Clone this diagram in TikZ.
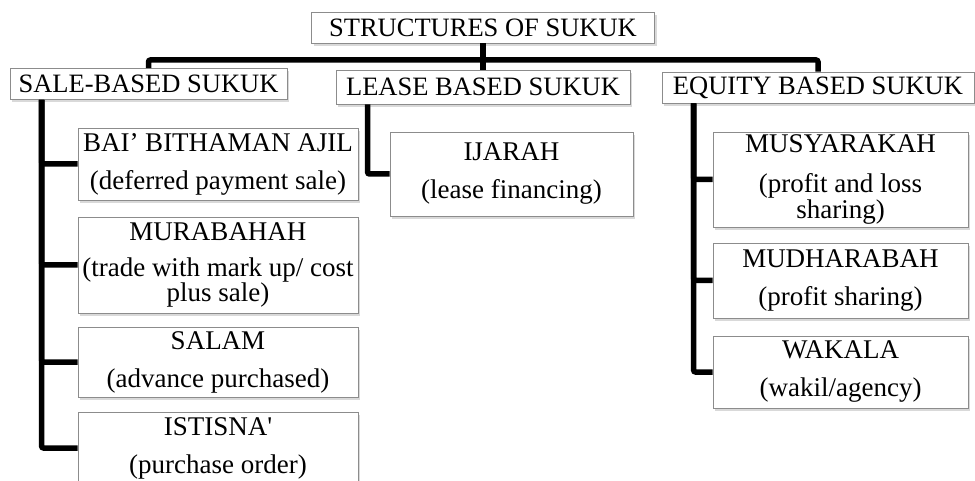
\documentclass[tikz,border=0pt]{standalone}
\usepackage{fontspec}
\setmainfont{Liberation Serif}
\usetikzlibrary{shadows}

\tikzset{
  box/.style={draw=black!45, line width=0.8pt, fill=white, inner sep=1pt, align=center,
    font=\fontsize{27}{23}\selectfont,
    drop shadow={shadow xshift=2pt, shadow yshift=-3pt, opacity=0.3}},
  head/.style={box, font=\fontsize{26.5}{23}\selectfont},
  conn/.style={line width=5.5pt, rounded corners=2pt}
}

\begin{document}
\begin{tikzpicture}[x=1pt, y=-1pt]
  \useasboundingbox (0,0) rectangle (975,481);

  % Title
  \node[head, minimum width=343pt, minimum height=31pt] (root) at (483,27.5) {STRUCTURES OF SUKUK};

  % Main groups
  \node[head, minimum width=277pt, minimum height=31pt] (sale) at (148.5,84) {SALE-BASED SUKUK};
  \node[head, minimum width=294pt, minimum height=34pt] (lease) at (483,87) {LEASE BASED SUKUK};
  \node[head, minimum width=312pt, minimum height=31pt] (equity) at (818,87.5) {EQUITY BASED SUKUK};

  \coordinate (bus) at (483,60);
  \draw[conn] (sale.north) |- (bus) -| (equity.north);
  \draw[conn] (root.south) -- (lease.north);

  % Sale-based
  \foreach \nm/\yc/\hh/\txt in {
    bai/164/72/{BAI’ BITHAMAN AJIL\\[15pt](deferred payment sale)},
    mura/265/96/{MURABAHAH\\[13pt](trade with mark up/ cost\\plus sale)},
    salam/362/70/{SALAM\\[15pt](advance purchased)},
    istisna/448/72/{ISTISNA\textquotesingle\\[15pt](purchase order)}} {
    \node[box, minimum width=280pt, minimum height=\hh pt] (\nm) at (218,\yc) {\txt};
    \draw[conn] ([xshift=32pt]sale.south west) |- (\nm.west);
  }

  % Lease based
  \node[box, minimum width=243pt, minimum height=84pt] (ijarah) at (511.5,174) {IJARAH\\[15pt](lease financing)};
  \draw[conn] ([xshift=32pt]lease.south west) |- (ijarah.west);

  % Equity based
  \foreach \nm/\yc/\hh/\txt in {
    musy/179.5/95/{MUSYARAKAH\\[17pt](profit and loss\\sharing)},
    mudh/280.5/75/{MUDHARABAH\\[15pt](profit sharing)},
    wakala/372/72/{WAKALA\\[15pt](wakil/agency)}} {
    \node[box, minimum width=255pt, minimum height=\hh pt] (\nm) at (840.5,\yc) {\txt};
    \draw[conn] ([xshift=32pt]equity.south west) |- (\nm.west);
  }
\end{tikzpicture}
\end{document}
